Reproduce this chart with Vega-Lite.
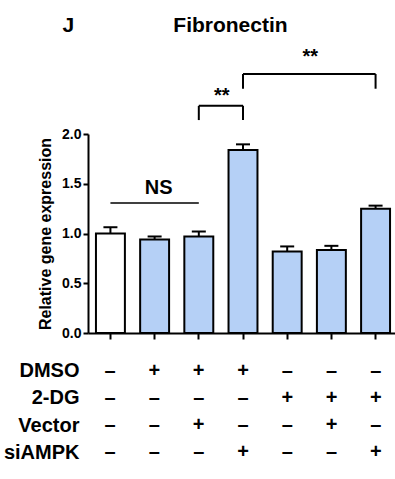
{
  "$schema": "https://vega.github.io/schema/vega-lite/v6.json",
  "padding": {"left": 3, "top": 15, "right": 0, "bottom": 0},
  "config": {
    "font": "Liberation Sans",
    "view": {"stroke": null},
    "axis": {"domainColor": "black", "tickColor": "black", "labelColor": "black", "titleColor": "black", "grid": false}
  },
  "title": {
    "text": "J\u00a0\u00a0\u00a0\u00a0\u00a0\u00a0\u00a0\u00a0\u00a0\u00a0\u00a0\u00a0\u00a0\u00a0\u00a0\u00a0\u00a0Fibronectin",
    "anchor": "start",
    "frame": "bounds",
    "dx": 59,
    "fontSize": 21,
    "fontWeight": "bold",
    "color": "black",
    "offset": 11
  },
  "datasets": {
    "bars": [
      {"g": "1", "type": "control", "value": 1.0, "err": 1.063},
      {"g": "2", "type": "treated", "value": 0.94, "err": 0.97},
      {"g": "3", "type": "treated", "value": 0.97, "err": 1.02},
      {"g": "4", "type": "treated", "value": 1.838, "err": 1.896},
      {"g": "5", "type": "treated", "value": 0.82, "err": 0.87},
      {"g": "6", "type": "treated", "value": 0.835, "err": 0.876},
      {"g": "7", "type": "treated", "value": 1.25, "err": 1.28}
    ],
    "ns": [{"x1": "1", "x2": "3", "y": 1.306, "label": "NS"}],
    "brackets": [
      {"x1": "3", "x2": "4", "y": 2.283},
      {"x1": "4", "x2": "7", "y": 2.603}
    ],
    "legs": [
      {"g": "3", "lo": 2.14, "hi": 2.283},
      {"g": "4", "lo": 2.14, "hi": 2.283},
      {"g": "4", "lo": 2.455, "hi": 2.603},
      {"g": "7", "lo": 2.455, "hi": 2.603}
    ],
    "stars": [
      {"g": "3", "y": 2.318, "label": "**"},
      {"g": "5", "y": 2.712, "label": "**"}
    ],
    "nslabel": [{"g": "2", "y": 1.394, "label": "NS"}],
    "table": [
      {"g": "1", "factor": "DMSO", "sign": "–"},
      {"g": "2", "factor": "DMSO", "sign": "+"},
      {"g": "3", "factor": "DMSO", "sign": "+"},
      {"g": "4", "factor": "DMSO", "sign": "+"},
      {"g": "5", "factor": "DMSO", "sign": "–"},
      {"g": "6", "factor": "DMSO", "sign": "–"},
      {"g": "7", "factor": "DMSO", "sign": "–"},
      {"g": "1", "factor": "2-DG", "sign": "–"},
      {"g": "2", "factor": "2-DG", "sign": "–"},
      {"g": "3", "factor": "2-DG", "sign": "–"},
      {"g": "4", "factor": "2-DG", "sign": "–"},
      {"g": "5", "factor": "2-DG", "sign": "+"},
      {"g": "6", "factor": "2-DG", "sign": "+"},
      {"g": "7", "factor": "2-DG", "sign": "+"},
      {"g": "1", "factor": "Vector", "sign": "–"},
      {"g": "2", "factor": "Vector", "sign": "–"},
      {"g": "3", "factor": "Vector", "sign": "+"},
      {"g": "4", "factor": "Vector", "sign": "–"},
      {"g": "5", "factor": "Vector", "sign": "–"},
      {"g": "6", "factor": "Vector", "sign": "+"},
      {"g": "7", "factor": "Vector", "sign": "–"},
      {"g": "1", "factor": "siAMPK", "sign": "–"},
      {"g": "2", "factor": "siAMPK", "sign": "–"},
      {"g": "3", "factor": "siAMPK", "sign": "–"},
      {"g": "4", "factor": "siAMPK", "sign": "+"},
      {"g": "5", "factor": "siAMPK", "sign": "–"},
      {"g": "6", "factor": "siAMPK", "sign": "–"},
      {"g": "7", "factor": "siAMPK", "sign": "+"}
    ]
  },
  "spacing": 17,
  "vconcat": [
    {
      "width": 310,
      "height": 199,
      "layer": [
        {
          "data": {"name": "bars"},
          "mark": {"type": "bar", "stroke": "black", "strokeWidth": 2},
          "encoding": {
            "x": {
              "field": "g", "type": "nominal", "sort": null,
              "scale": {"paddingInner": 0.345, "paddingOuter": 0.18},
              "axis": {"labels": false, "title": null, "tickSize": 6, "tickWidth": 2, "domainWidth": 2}
            },
            "y": {
              "field": "value", "type": "quantitative",
              "scale": {"domain": [0, 2], "nice": false},
              "axis": {
                "values": [0, 0.5, 1, 1.5, 2], "format": ".1f",
                "labelFontSize": 14, "labelFontWeight": "bold", "labelPadding": 2,
                "tickSize": 5, "tickWidth": 2, "domainWidth": 2,
                "title": "Relative gene expression", "titleFontSize": 16, "titleFontWeight": "bold", "titlePadding": 8
              }
            },
            "fill": {
              "field": "type", "type": "nominal",
              "scale": {"domain": ["control", "treated"], "range": ["#ffffff", "#b5d0f6"]},
              "legend": null
            }
          }
        },
        {
          "data": {"name": "bars"},
          "mark": {"type": "rule", "strokeWidth": 2, "color": "black"},
          "encoding": {
            "x": {"field": "g", "type": "nominal", "sort": null},
            "y": {"field": "value", "type": "quantitative"},
            "y2": {"field": "err"}
          }
        },
        {
          "data": {"name": "bars"},
          "mark": {"type": "tick", "thickness": 2, "size": 14, "color": "black", "opacity": 1},
          "encoding": {
            "x": {"field": "g", "type": "nominal", "sort": null},
            "y": {"field": "err", "type": "quantitative"}
          }
        },
        {
          "data": {"name": "ns"},
          "mark": {"type": "rule", "strokeWidth": 1.5, "color": "black"},
          "encoding": {
            "x": {"field": "x1", "type": "nominal", "sort": null},
            "x2": {"field": "x2"},
            "y": {"field": "y", "type": "quantitative"}
          }
        },
        {
          "data": {"name": "brackets"},
          "mark": {"type": "rule", "strokeWidth": 2, "color": "black"},
          "encoding": {
            "x": {"field": "x1", "type": "nominal", "sort": null},
            "x2": {"field": "x2"},
            "y": {"field": "y", "type": "quantitative"}
          }
        },
        {
          "data": {"name": "legs"},
          "mark": {"type": "rule", "strokeWidth": 2, "color": "black"},
          "encoding": {
            "x": {"field": "g", "type": "nominal", "sort": null},
            "y": {"field": "lo", "type": "quantitative"},
            "y2": {"field": "hi"}
          }
        },
        {
          "data": {"name": "stars"},
          "mark": {"type": "text", "fontSize": 20, "fontWeight": "bold", "dx": 23, "baseline": "alphabetic", "color": "black"},
          "encoding": {
            "x": {"field": "g", "type": "nominal", "sort": null},
            "y": {"field": "y", "type": "quantitative"},
            "text": {"field": "label"}
          }
        },
        {
          "data": {"name": "nslabel"},
          "mark": {"type": "text", "fontSize": 20, "fontWeight": "bold", "dx": 4, "baseline": "alphabetic", "color": "black"},
          "encoding": {
            "x": {"field": "g", "type": "nominal", "sort": null},
            "y": {"field": "y", "type": "quantitative"},
            "text": {"field": "label"}
          }
        }
      ]
    },
    {
      "width": 310,
      "height": 109,
      "data": {"name": "table"},
      "mark": {"type": "text", "fontSize": 20, "fontWeight": "bold", "color": "black"},
      "encoding": {
        "x": {
          "field": "g", "type": "nominal", "sort": null,
          "scale": {"paddingInner": 0.345, "paddingOuter": 0.18},
          "axis": null
        },
        "y": {
          "field": "factor", "type": "nominal",
          "sort": ["DMSO", "2-DG", "Vector", "siAMPK"],
          "axis": {"domain": false, "ticks": false, "labelFontSize": 20, "labelFontWeight": "bold", "labelPadding": 9, "title": null}
        },
        "text": {"field": "sign"}
      }
    }
  ]
}
